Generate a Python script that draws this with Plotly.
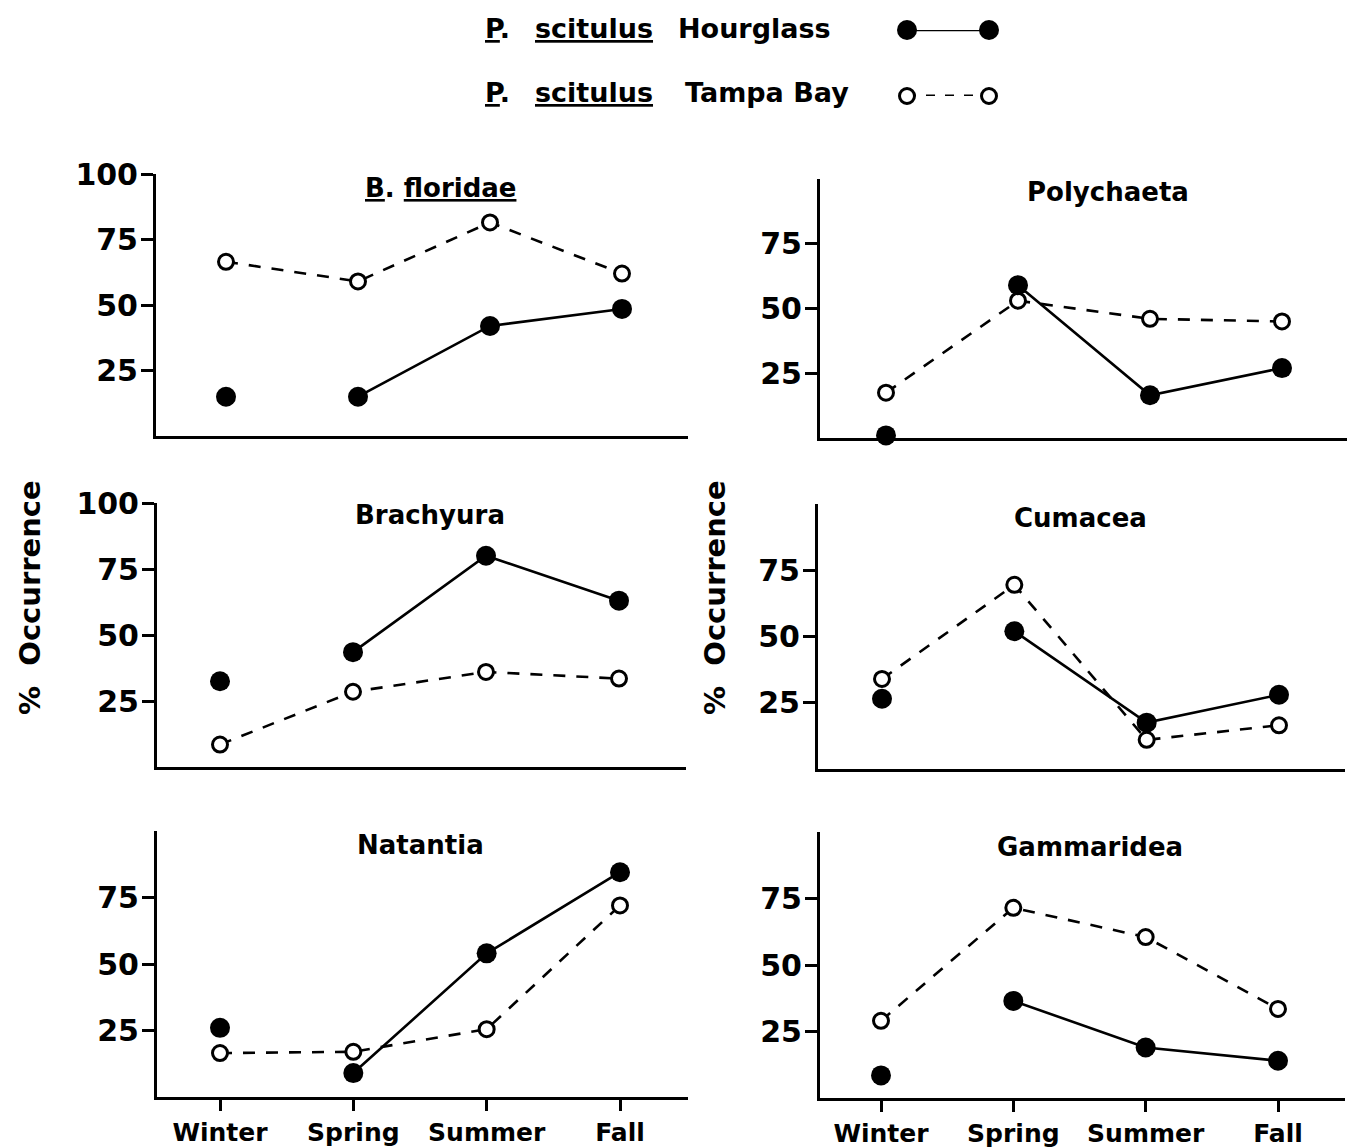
import plotly.graph_objects as go

# ---- data -------------------------------------------------------------
seasons = ["Winter", "Spring", "Summer", "Fall"]
season_x = [0, 1, 2, 3]

panel_titles = [
    "<u>B</u>. <u>floridae</u>",
    "Polychaeta",
    "Brachyura",
    "Cumacea",
    "Natantia",
    "Gammaridea",
]

# % occurrence, P. scitulus Hourglass (filled circles)
hourglass_floridae = [15, 15, 42, 48.5]
hourglass_polychaeta = [1, 59, 16.5, 27]
hourglass_brachyura = [32.5, 43.5, 80, 63]
hourglass_cumacea = [26.5, 52, 17.5, 28]
hourglass_natantia = [26, 9, 54, 84.5]
hourglass_gammaridea = [8.5, 36.5, 19, 14]

# % occurrence, P. scitulus Tampa Bay (open circles)
tampa_floridae = [66.5, 59, 81.5, 62]
tampa_polychaeta = [17.5, 53, 46, 45]
tampa_brachyura = [8.5, 28.5, 36, 33.5]
tampa_cumacea = [34, 69.5, 11, 16.5]
tampa_natantia = [16.5, 17, 25.5, 72]
tampa_gammaridea = [29, 71.5, 60.5, 33.5]

y_ticks_with_100 = [25, 50, 75, 100]
y_ticks_short = [25, 50, 75]

hourglass_series = [hourglass_floridae, hourglass_polychaeta, hourglass_brachyura,
                    hourglass_cumacea, hourglass_natantia, hourglass_gammaridea]
tampa_series = [tampa_floridae, tampa_polychaeta, tampa_brachyura,
                tampa_cumacea, tampa_natantia, tampa_gammaridea]
panel_ticks = [y_ticks_with_100, y_ticks_short, y_ticks_with_100,
               y_ticks_short, y_ticks_short, y_ticks_short]

# ---- page geometry ----------------------------------------------------
W, H = 1357, 1148
FONT = "DejaVu Sans"
INK = "black"

FILLED = dict(symbol="circle", size=20, color=INK, line=dict(width=0))
OPEN = dict(symbol="circle", size=15, color="white", line=dict(color=INK, width=3))


def px(x):
    return x / W


def py(y):
    return 1 - y / H


# left, right, top(=100), bottom(=0), winter centre, fall centre (pixels)
frames = [
    (156, 688, 174, 436, 226, 622),
    (820, 1347, 179, 438, 886, 1282),
    (157, 686, 503, 767, 220, 619),
    (818, 1345, 504, 769, 882, 1279),
    (157, 688, 831, 1097, 220, 620),
    (820, 1345, 832, 1098, 881, 1278),
]
title_pos = [(441, 188), (1108, 192), (430, 515), (1080, 518), (420, 845), (1090, 847)]

fig = go.Figure()

for i in range(6):
    ax = "" if i == 0 else str(i + 1)
    xref, yref = "x" + ax, "y" + ax
    hg = hourglass_series[i]
    tb = tampa_series[i]

    # Tampa Bay: dashed line with open circles
    fig.add_trace(go.Scatter(
        x=season_x, y=tb, xaxis=xref, yaxis=yref, mode="lines+markers",
        line=dict(color=INK, width=2.6, dash="12px,11px"),
        marker=OPEN, cliponaxis=False, showlegend=False, hoverinfo="skip"))

    # Hourglass: winter point stands alone, spring-fall joined
    hg_line = [None] + hg[1:]
    fig.add_trace(go.Scatter(
        x=season_x, y=hg_line, xaxis=xref, yaxis=yref, mode="lines",
        line=dict(color=INK, width=2.6), connectgaps=False,
        cliponaxis=False, showlegend=False, hoverinfo="skip"))
    fig.add_trace(go.Scatter(
        x=season_x, y=hg, xaxis=xref, yaxis=yref, mode="markers",
        marker=FILLED, cliponaxis=False, showlegend=False, hoverinfo="skip"))

    left, right, top, bottom, wx, fx = frames[i]
    unit = (fx - wx) / 3
    lo = -(wx - left) / unit
    hi = 3 + (right - fx) / unit
    bottom_row = i >= 4

    fig.update_layout(**{
        "xaxis" + ax: dict(
            domain=[px(left), px(right)], range=[lo, hi], anchor=yref,
            automargin=False,
            showline=True, linecolor=INK, linewidth=3, showgrid=False, zeroline=False,
            tickmode="array", tickvals=season_x,
            ticktext=seasons if bottom_row else [""] * 4,
            ticks="outside" if bottom_row else "", ticklen=11, tickwidth=2.5, tickcolor=INK,
            showticklabels=bottom_row,
            tickfont=dict(family=FONT, size=25, color=INK, weight="bold"),
        ),
        "yaxis" + ax: dict(
            domain=[py(bottom), py(top)], range=[0, 100], anchor=xref,
            automargin=False,
            showline=True, linecolor=INK, linewidth=3, showgrid=False, zeroline=False,
            tickmode="array", tickvals=panel_ticks[i],
            ticks="outside", ticklen=12, tickwidth=2.5, tickcolor=INK,
            ticklabelstandoff=-3,
            tickfont=dict(family=FONT, size=30, color=INK, weight="bold"),
        ),
    })

    tx, ty = title_pos[i]
    fig.add_annotation(
        x=px(tx), y=py(ty), xref="paper", yref="paper", text=panel_titles[i],
        showarrow=False, xanchor="center", yanchor="middle",
        font=dict(family=FONT, size=26, color=INK, weight="bold"))

# ---- y-axis titles ----------------------------------------------------
for xpos in (30, 715):
    fig.add_annotation(
        x=px(xpos), y=py(598), xref="paper", yref="paper", text="%  Occurrence",
        textangle=-90, showarrow=False, xanchor="center", yanchor="middle",
        font=dict(family=FONT, size=29, color=INK, weight="bold"))

# ---- key ---------------------------------------------------------------
key_rows = [
    (29, "Hourglass", 676),
    (93, "Tampa Bay", 683),
]
for ky, place, place_x in key_rows:
    for text, kx in (("<u>P</u>.", 483), ("<u>scitulus</u>", 533), (place, place_x)):
        fig.add_annotation(
            x=px(kx), y=py(ky), xref="paper", yref="paper", text=text,
            showarrow=False, xanchor="left", yanchor="middle",
            font=dict(family=FONT, size=27, color=INK, weight="bold"))

fig.add_trace(go.Scatter(
    x=[0, 1], y=[1, 1], xaxis="x7", yaxis="y7", mode="lines+markers",
    line=dict(color=INK, width=2.6),
    marker=FILLED, cliponaxis=False, showlegend=False, hoverinfo="skip"))
fig.add_trace(go.Scatter(
    x=[0, 1], y=[0, 0], xaxis="x7", yaxis="y7", mode="lines+markers",
    line=dict(color=INK, width=2.8, dash="9px,10px"),
    marker=OPEN, cliponaxis=False, showlegend=False, hoverinfo="skip"))

fig.update_layout(
    xaxis7=dict(domain=[px(907), px(989)], range=[0, 1], visible=False,
                anchor="y7", automargin=False),
    yaxis7=dict(domain=[py(96), py(30)], range=[0, 1], visible=False,
                anchor="x7", automargin=False),
    width=W, height=H,
    margin=dict(l=0, r=0, t=0, b=0, pad=0, autoexpand=False),
    paper_bgcolor="white", plot_bgcolor="white",
    showlegend=False,
)

fig.write_html("out.html")
